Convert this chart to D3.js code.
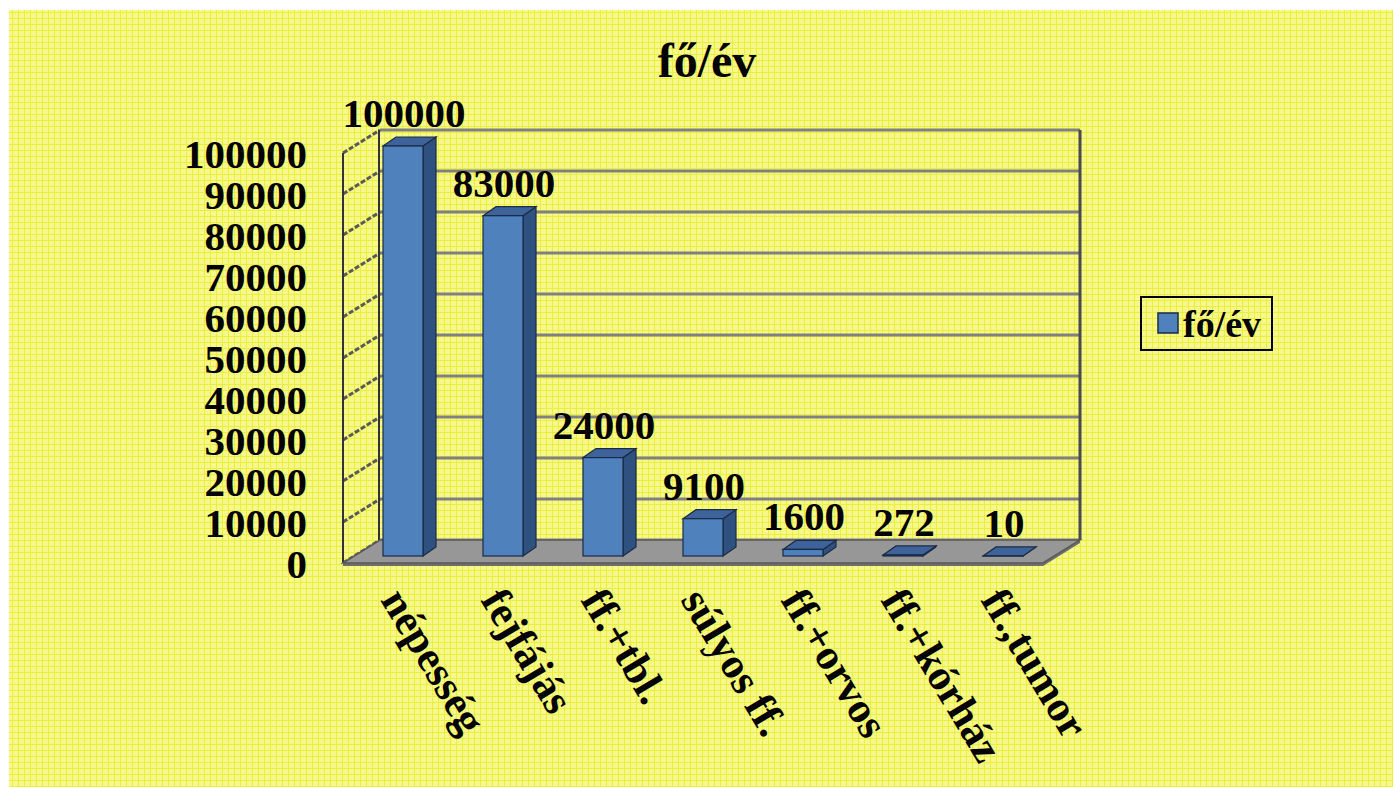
<!DOCTYPE html>
<html>
<head>
<meta charset="utf-8">
<script src="https://cdn.jsdelivr.net/npm/d3@7"></script>
<style>
  html, body { margin: 0; padding: 0; background: #ffffff; }
  svg { display: block; }
  text { font-family: "Liberation Serif", "Times New Roman", serif; font-weight: bold; fill: #000; }
</style>
</head>
<body>
<svg id="chart" width="1393" height="787"></svg>
<script>
// ---- data ----
const categories = ["népesség", "fejfájás", "ff.+tbl.", "súlyos ff.", "ff.+orvos", "ff.+kórház", "ff.,tumor"];
const values = [100000, 83000, 24000, 9100, 1600, 272, 10];
const yTicks = [0, 10000, 20000, 30000, 40000, 50000, 60000, 70000, 80000, 90000, 100000];
const seriesName = "fő/év";
const title = "fő/év";

// ---- layout ----
const svg = d3.select("#chart");
const W = 1393, H = 787;

const defs = svg.append("defs");
const pat = defs.append("pattern").attr("id", "bgpat").attr("patternUnits", "userSpaceOnUse")
  .attr("width", 6).attr("height", 6);
pat.append("rect").attr("width", 6).attr("height", 6).attr("fill", "#f6f88f");
pat.append("rect").attr("x", 0).attr("y", 0).attr("width", 6).attr("height", 1).attr("fill", "#eaef38");
pat.append("rect").attr("x", 0).attr("y", 0).attr("width", 1).attr("height", 6).attr("fill", "#eaef38");

svg.append("rect").attr("x", 9).attr("y", 10).attr("width", W - 9).attr("height", H - 10)
  .attr("fill", "url(#bgpat)");

// front plane origin (floor front-left) and depth offsets
const x0 = 343, y0 = 563;
const depthX = 37, depthY = -23;      // full floor depth
const barShiftX = 10, barShiftY = -7; // bars' front face offset from floor front
const barDX = 13, barDY = -9;         // bar depth

const x = d3.scaleBand().domain(categories).range([0, 700]).paddingInner(0.6).paddingOuter(0.3);
const y = d3.scaleLinear().domain([0, 100000]).range([0, 410]);

const g = svg.append("g");

// back wall gridlines
const bx = x0 + depthX, by = y0 + depthY;
g.selectAll(".grid").data(yTicks).enter().append("line")
  .attr("x1", bx).attr("x2", bx + 700)
  .attr("y1", d => by - y(d)).attr("y2", d => by - y(d))
  .attr("stroke", "#808080").attr("stroke-width", 3);
// side wall gridlines
g.selectAll(".sgrid").data(yTicks).enter().append("line")
  .attr("x1", x0).attr("x2", bx)
  .attr("y1", d => y0 - y(d)).attr("y2", d => by - y(d))
  .attr("stroke", "#5a5a5a").attr("stroke-width", 3).attr("stroke-dasharray", "5,2");

// walls edges
g.append("line").attr("x1", bx + 700).attr("x2", bx + 700).attr("y1", by - y(100000)).attr("y2", by)
  .attr("stroke", "#4a4a4a").attr("stroke-width", 3);
g.append("line").attr("x1", bx - 1).attr("x2", bx - 1).attr("y1", by - y(100000)).attr("y2", by)
  .attr("stroke", "#333").attr("stroke-width", 2);
g.append("line").attr("x1", x0).attr("x2", x0).attr("y1", y0 - y(100000)).attr("y2", y0)
  .attr("stroke", "#333").attr("stroke-width", 2);

// floor
const fl = [[x0, y0], [bx, by], [bx + 700, by], [x0 + 700, y0]];
g.append("path").attr("d", "M" + [[x0, y0 + 3], [x0 + 700, y0 + 3], [bx + 700, by + 3], [bx + 700, by], [x0 + 700, y0], [x0, y0]].join("L") + "Z")
  .attr("fill", "#6e6e6e");
g.append("path").attr("d", "M" + fl.join("L") + "Z").attr("fill", "#979797").attr("stroke", "#5a5a5a").attr("stroke-width", 1.5);

// bars
const barG = g.selectAll(".bar").data(categories.map((c, i) => ({ c, v: values[i] }))).enter().append("g");
barG.each(function (d) {
  const gg = d3.select(this);
  const lx = x0 + barShiftX + x(d.c), rx = lx + x.bandwidth();
  const bot = y0 + barShiftY, top = bot - y(d.v);
  gg.append("path").attr("d", `M${rx},${bot}L${rx + barDX},${bot + barDY}L${rx + barDX},${top + barDY}L${rx},${top}Z`)
    .attr("fill", "#2f5180").attr("stroke", "#1b2b45").attr("stroke-width", 1.2);
  gg.append("path").attr("d", `M${lx},${top}L${lx + barDX},${top + barDY}L${rx + barDX},${top + barDY}L${rx},${top}Z`)
    .attr("fill", "#3d639a").attr("stroke", "#1b2b45").attr("stroke-width", 1.2);
  gg.append("rect").attr("x", lx).attr("y", top).attr("width", x.bandwidth()).attr("height", Math.max(0, bot - top))
    .attr("fill", "#4f81bd").attr("stroke", "#1b2b45").attr("stroke-width", 1.2);
  gg.append("text").attr("x", lx + x.bandwidth() / 2 + 1).attr("y", top - 19)
    .attr("text-anchor", "middle").attr("font-size", 41).text(d3.format("d")(d.v));
});

// y axis labels
g.selectAll(".ylab").data(yTicks).enter().append("text")
  .attr("x", 307).attr("y", d => y0 - y(d)).attr("dy", "0.36em")
  .attr("text-anchor", "end").attr("font-size", 41).text(d => d3.format("d")(d));

// category labels
g.selectAll(".xlab").data(categories).enter().append("text")
  .attr("transform", d => `translate(${x0 + x(d) + 7},${600}) rotate(59)`)
  .attr("text-anchor", "start").attr("font-size", 43).text(d => d);

// title
svg.append("text").attr("x", 707).attr("y", 77).attr("text-anchor", "middle").attr("font-size", 48).text(title);

// legend
const lg = svg.append("g");
lg.append("rect").attr("x", 1141).attr("y", 297).attr("width", 131).attr("height", 53)
  .attr("fill", "none").attr("stroke", "#000").attr("stroke-width", 2);
lg.append("rect").attr("x", 1158).attr("y", 313).attr("width", 20).attr("height", 20)
  .attr("fill", "#4f81bd").attr("stroke", "#1b2b45").attr("stroke-width", 1.5);
lg.append("text").attr("x", 1183).attr("y", 337).attr("font-size", 38).text(seriesName);
</script>
</body>
</html>
